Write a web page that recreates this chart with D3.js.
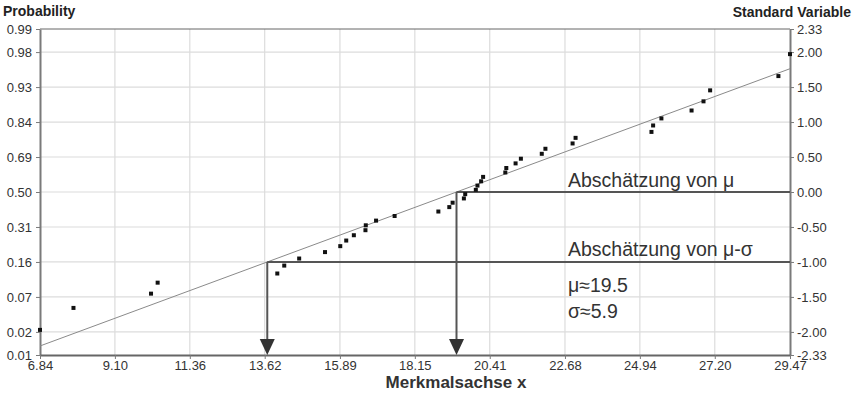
<!DOCTYPE html>
<html>
<head>
<meta charset="utf-8">
<script src="https://cdn.jsdelivr.net/npm/d3@7"></script>
<style>
  html, body { margin: 0; padding: 0; background: #fff; }
  svg { display: block; font-family: "Liberation Sans", Arial, sans-serif; }
</style>
</head>
<body>
<svg id="chart" width="855" height="395"></svg>
<script>
// Sorted sample values (Merkmalsachse x)
const sampleValues = [
  6.84, 7.85, 10.19, 10.39, 14.00, 14.21, 14.66, 15.44, 15.90, 16.08,
  16.31, 16.66, 16.67, 16.98, 17.54, 18.86, 19.19, 19.29, 19.63, 19.67,
  19.99, 20.04, 20.15, 20.21, 20.88, 20.91, 21.19, 21.35, 21.98, 22.09,
  22.91, 23.00, 25.29, 25.34, 25.59, 26.50, 26.86, 27.06, 29.12, 29.47
];
// Standard variable of each ranked sample value
const standardScores = [
  -1.971, -1.657, -1.453, -1.296, -1.165, -1.052, -0.951, -0.859, -0.774, -0.694,
  -0.618, -0.546, -0.476, -0.409, -0.343, -0.279, -0.216, -0.153, -0.092, -0.031,
   0.031,  0.092,  0.153,  0.216,  0.279,  0.343,  0.409,  0.476,  0.546,  0.618,
   0.694,  0.774,  0.859,  0.951,  1.052,  1.165,  1.296,  1.453,  1.657,  1.971
];
// Axis ticks
const xTickLabels = ["6.84", "9.10", "11.36", "13.62", "15.89", "18.15", "20.41", "22.68", "24.94", "27.20", "29.47"];
const zTicks = [2.33, 2.00, 1.50, 1.00, 0.50, 0.00, -0.50, -1.00, -1.50, -2.00, -2.33];
const zTickLabels = ["2.33", "2.00", "1.50", "1.00", "0.50", "0.00", "-0.50", "-1.00", "-1.50", "-2.00", "-2.33"];
const probTickLabels = ["0.99", "0.98", "0.93", "0.84", "0.69", "0.50", "0.31", "0.16", "0.07", "0.02", "0.01"];
// Annotation texts
const muText = "μ≈19.5";
const sigmaText = "σ≈5.9";

const svg = d3.select("#chart");
const margin = { left: 40, right: 65, top: 29, bottom: 40 };
const W = 855, H = 395;
const x0 = margin.left, x1 = W - margin.right, y0 = margin.top, y1 = H - margin.bottom;

const xTickVals = xTickLabels.map(Number);
const x = d3.scaleLinear().domain([xTickVals[0], xTickVals[xTickVals.length - 1]]).range([x0, x1]);
const y = d3.scaleLinear().domain([-2.33, 2.33]).range([y1, y0]);

// Fitted normal line: mean and regression slope of x on z
const mu = d3.mean(sampleValues);
const sigma = d3.sum(sampleValues, (v, i) => (v - mu) * standardScores[i]) /
              d3.sum(standardScores, z => z * z);

// Gridlines
const grid = svg.append("g").attr("stroke", "#dcdcdc").attr("stroke-width", 1.2);
grid.selectAll("line.v").data(xTickVals.slice(1, -1)).join("line")
  .attr("x1", d => x(d)).attr("x2", d => x(d)).attr("y1", y0).attr("y2", y1);
grid.selectAll("line.h").data(zTicks.slice(1, -1)).join("line")
  .attr("x1", x0).attr("x2", x1).attr("y1", d => y(d)).attr("y2", d => y(d));

// Top border
svg.append("line").attr("x1", x0).attr("x2", x1).attr("y1", y0).attr("y2", y0)
  .attr("stroke", "#666").attr("stroke-width", 1);

// Axes
function styleAxis(g, width) {
  g.select(".domain").attr("stroke", "#7a7a7a").attr("stroke-width", width);
  g.selectAll(".tick line").attr("stroke", "#7a7a7a").attr("stroke-width", 1);
  g.selectAll(".tick text").attr("fill", "#333").style("font-size", "13px")
    .style("font-family", "'Liberation Sans', Arial, sans-serif");
}
const left = svg.append("g").attr("transform", `translate(${x0},0)`)
  .call(d3.axisLeft(y).tickValues(zTicks).tickSize(4).tickSizeOuter(0).tickPadding(4)
    .tickFormat((d, i) => probTickLabels[i]));
styleAxis(left, 2);

const right = svg.append("g").attr("transform", `translate(${x1},0)`)
  .call(d3.axisRight(y).tickValues(zTicks).tickSize(4).tickSizeOuter(0).tickPadding(3)
    .tickFormat((d, i) => zTickLabels[i]));
styleAxis(right, 2);

const bottom = svg.append("g").attr("transform", `translate(0,${y1})`)
  .call(d3.axisBottom(x).tickValues(xTickVals).tickSize(4).tickSizeOuter(0).tickPadding(2)
    .tickFormat((d, i) => xTickLabels[i]));
styleAxis(bottom, 2);
bottom.select(".domain").attr("stroke", "#666");

// Fitted line
const xs = x.domain();
svg.append("line")
  .attr("x1", x(xs[0])).attr("y1", y((xs[0] - mu) / sigma))
  .attr("x2", x(xs[1])).attr("y2", y((xs[1] - mu) / sigma))
  .attr("stroke", "#8a8a8a").attr("stroke-width", 1);

// Estimation guides with arrows
function guide(xv, zv) {
  const g = svg.append("g");
  g.append("line").attr("x1", x(xv)).attr("x2", x1).attr("y1", y(zv)).attr("y2", y(zv))
    .attr("stroke", "#555").attr("stroke-width", 2);
  g.append("line").attr("x1", x(xv)).attr("x2", x(xv)).attr("y1", y(zv)).attr("y2", y1 - 14)
    .attr("stroke", "#555").attr("stroke-width", 2);
  const ax = x(xv);
  g.append("path")
    .attr("d", `M${ax - 7.5},${y1 - 16} L${ax + 7.5},${y1 - 16} L${ax},${y1} Z`)
    .attr("fill", "#333");
}
guide(mu, 0);
guide(mu - sigma, -1);

// Sample points
svg.append("g").selectAll("rect").data(sampleValues).join("rect")
  .attr("x", d => x(d) - 2).attr("y", (d, i) => y(standardScores[i]) - 2)
  .attr("width", 4).attr("height", 4).attr("fill", "#111");

// Annotation texts
const ann = svg.append("g").attr("fill", "#333").style("font-size", "19.5px");
ann.append("text").attr("x", 568).attr("y", y(0) - 5).text("Abschätzung von μ");
ann.append("text").attr("x", 568).attr("y", y(-1) - 5.5).text("Abschätzung von μ-σ");
ann.append("text").attr("x", 568).attr("y", 292).text(muText);
ann.append("text").attr("x", 568).attr("y", 318).text(sigmaText);

// Axis titles
svg.append("text").attr("x", 3).attr("y", 16).attr("font-weight", "bold")
  .style("font-size", "14px").attr("fill", "#222").text("Probability");
svg.append("text").attr("x", 851).attr("y", 17).attr("text-anchor", "end").attr("font-weight", "bold")
  .style("font-size", "14px").attr("fill", "#222").text("Standard Variable");
svg.append("text").attr("x", 456).attr("y", 388).attr("text-anchor", "middle").attr("font-weight", "bold")
  .style("font-size", "17px").attr("fill", "#333").text("Merkmalsachse x");
</script>
</body>
</html>
